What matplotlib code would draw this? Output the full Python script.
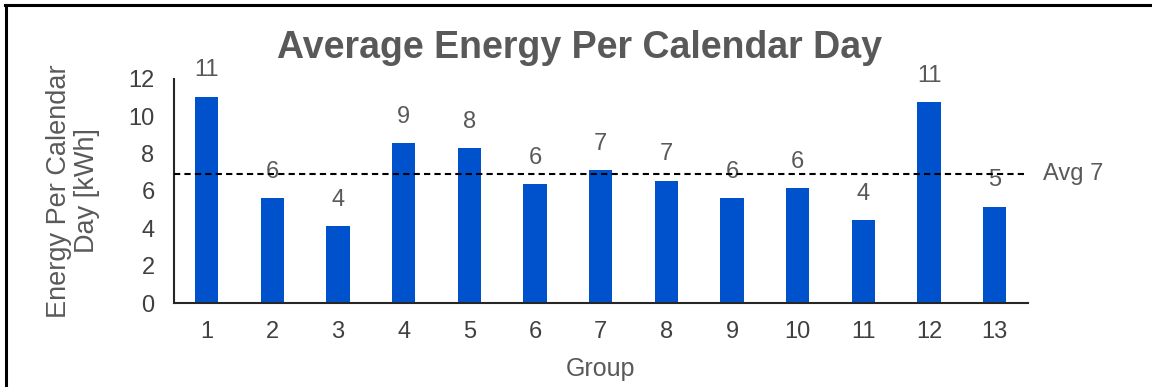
import matplotlib
matplotlib.use('Agg')
import matplotlib.pyplot as plt
from matplotlib.lines import Line2D
import numpy

plt.rcParams['font.family'] = ['Liberation Sans', 'DejaVu Sans']

# energy per calendar day for each group, kWh
groups = ['1', '2', '3', '4', '5', '6', '7', '8', '9', '10', '11', '12', '13']
energy = [11.05, 5.6, 4.1, 8.55, 8.3, 6.35, 7.1, 6.55, 5.6, 6.15, 4.45, 10.75, 5.15]
yticks = [0, 2, 4, 6, 8, 10, 12]

avgEnergy = numpy.mean(energy)

textGrey = '#595959'
barBlue = '#0052CC'
fs = 17

fig = plt.figure(figsize=(11.52, 3.87), dpi=100)
ax = fig.add_axes([0.151, 0.217, 0.741, 0.579])

x = numpy.arange(1, len(groups) + 1)
bars = ax.bar(x, energy, width=0.355, color=barBlue, zorder=2)

# rounded value above each bar
for xi, val in zip(x, energy):
    ax.annotate('{:.0f}'.format(val), (xi, val), xytext=(0, 19), textcoords='offset points',
                ha='center', va='center', fontsize=fs, color=textGrey, zorder=1)

# average line across the full width
ax.axhline(avgEnergy, color='black', linestyle=(0, (3, 2)), linewidth=1.5, zorder=3)
ax.annotate('Avg {:.0f}'.format(avgEnergy), (1, avgEnergy), xycoords=('axes fraction', 'data'),
            xytext=(11, 0), textcoords='offset points', ha='left', va='center',
            fontsize=fs, color=textGrey, annotation_clip=False)

ax.set_xlim(0.5, len(groups) + 0.5)
ax.set_ylim(0, 12)
ax.set_xticks(x)
ax.set_xticklabels(groups)
ax.set_yticks(yticks)
ax.tick_params(length=0, labelsize=fs, labelcolor='#404040')
ax.tick_params(axis='x', pad=13)
ax.tick_params(axis='y', pad=14)

for side in ['top', 'right']:
    ax.spines[side].set_visible(False)
for side in ['left', 'bottom']:
    ax.spines[side].set_color('#262626')
    ax.spines[side].set_linewidth(1.5)

ax.set_xlabel('Group', fontsize=18, color=textGrey, labelpad=10)
ax.set_ylabel('Energy Per Calendar\nDay [kWh]', fontsize=19.5, color=textGrey, labelpad=20,
              linespacing=1.1)

fig.text(0.503, 1 - 48 / 387, 'Average Energy Per Calendar Day', ha='center', va='center',
         fontsize=27, fontweight='bold', color=textGrey)

# outer frame line on the top and left edges
fig.add_artist(Line2D([6 / 1152, 6 / 1152], [0, 1 - 5 / 387], color='black', linewidth=2.2,
                      transform=fig.transFigure))
fig.add_artist(Line2D([5 / 1152, 1], [1 - 5 / 387, 1 - 5 / 387], color='black', linewidth=2.2,
                      transform=fig.transFigure))

fig.savefig('out.png', dpi=100)
